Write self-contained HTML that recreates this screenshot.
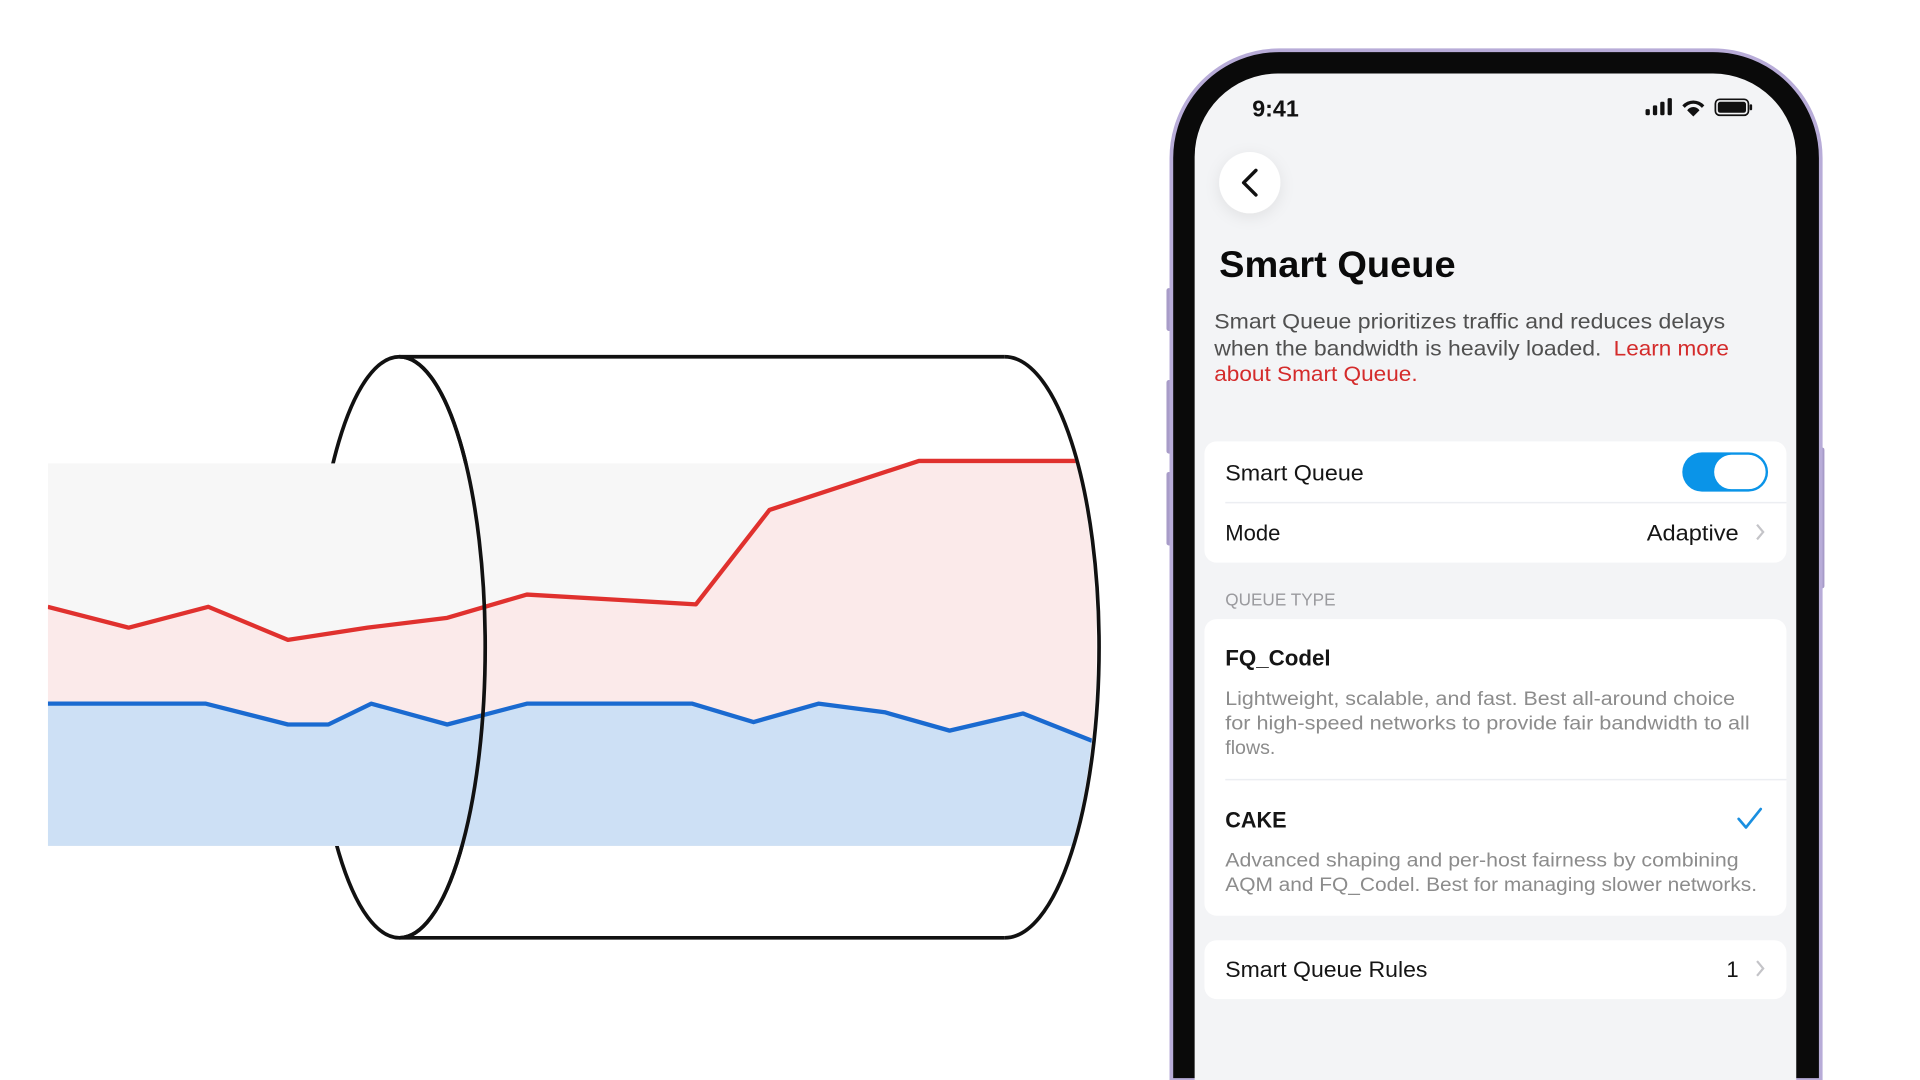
<!DOCTYPE html>
<html><head><meta charset="utf-8"><style>
html,body{margin:0;padding:0;background:#fff;width:1920px;height:1080px;overflow:hidden}
svg{display:block}
text{font-family:"Liberation Sans",sans-serif}
</style></head><body>
<svg width="1920" height="1080" viewBox="0 0 1567 881" preserveAspectRatio="none" xmlns="http://www.w3.org/2000/svg">
<defs>
<clipPath id="bandclip"><rect x="39" y="0" width="781" height="881"/><ellipse cx="820" cy="528" rx="75" ry="237"/></clipPath>
<filter id="sh" x="-50%" y="-50%" width="200%" height="200%"><feDropShadow dx="0" dy="3" stdDeviation="6" flood-color="#000" flood-opacity="0.08"/></filter>
</defs>
<ellipse cx="326" cy="528" rx="70" ry="237" fill="none" stroke="#111" stroke-width="3"/>
<g clip-path="url(#bandclip)">
<rect x="39" y="378" width="860" height="312" fill="#f7f7f7"/>
<polygon fill="#fbeaea" points="39,495 105,512 170,495 235,522 300,512 365,504 430,485 568,493 628,416 750,376 900,376 900,690 39,690"/>
<polygon fill="#cde0f5" points="39,574 168,574 235,591 268,591 303,574 365,591 430,574 565,574 615,589 668,574 722,581 775,596 835,582 893,605 900,605 900,690 39,690"/>
<polyline fill="none" stroke="#e0312e" stroke-width="3.5" stroke-linejoin="round" points="39,495 105,512 170,495 235,522 300,512 365,504 430,485 568,493 628,416 750,376 900,376"/>
<polyline fill="none" stroke="#1a6ad0" stroke-width="3.5" stroke-linejoin="round" points="39,574 168,574 235,591 268,591 303,574 365,591 430,574 565,574 615,589 668,574 722,581 775,596 835,582 893,605"/>
</g>
<path d="M326,291 A70,237 0 0 1 326,765" fill="none" stroke="#111" stroke-width="3"/>
<line x1="326" y1="291" x2="820" y2="291" stroke="#111" stroke-width="3"/>
<line x1="326" y1="765" x2="820" y2="765" stroke="#111" stroke-width="3"/>
<path d="M820,291 A77,237 0 0 1 820,765" fill="none" stroke="#111" stroke-width="3"/>

<rect x="952" y="235" width="5" height="35" rx="2" fill="#a89cc8"/>
<rect x="952" y="310" width="5" height="60" rx="2" fill="#a89cc8"/>
<rect x="952" y="385" width="5" height="60" rx="2" fill="#a89cc8"/>
<rect x="1484" y="365" width="5" height="115" rx="2" fill="#a89cc8"/>
<path d="M956,881 L956,129 A88,88 0 0 1 1044,41 L1398,41 A88,88 0 0 1 1486,129 L1486,881 Z" fill="#0a0a0a" stroke="#b8acd8" stroke-width="3"/>
<path d="M975,881 L975,128 A68,68 0 0 1 1043,60 L1398,60 A68,68 0 0 1 1466,128 L1466,881 Z" fill="#f3f4f6"/>
<text x="1022" y="95" font-size="19" font-weight="bold" fill="#111">9:41</text>
<g fill="#111">
<rect x="1343" y="89" width="3.5" height="5" rx="1"/><rect x="1349" y="86" width="3.5" height="8" rx="1"/><rect x="1355" y="83" width="3.5" height="11" rx="1"/><rect x="1361" y="80" width="3.5" height="14" rx="1"/>
<path d="M1373,86 a12,12 0 0 1 18,0 l-2,2 a9,9 0 0 0 -14,0z M1377,90 a6,6 0 0 1 10,0 l-5,5z"/>
<rect x="1400" y="81" width="27" height="13" rx="3.5" fill="none" stroke="#111" stroke-width="1.4"/>
<rect x="1402" y="83" width="23" height="9" rx="2"/><rect x="1428" y="85" width="2" height="5" rx="1"/>
</g>
<circle cx="1020" cy="149" r="25" fill="#fff" filter="url(#sh)"/>
<polyline points="1025,139 1015,149 1025,159" fill="none" stroke="#111" stroke-width="2.8" stroke-linecap="round" stroke-linejoin="round"/>
<text x="995" y="226" font-size="30" font-weight="bold" fill="#0a0a0a" textLength="193" lengthAdjust="spacingAndGlyphs">Smart Queue</text>
<g font-size="17" fill="#505050">
<text x="991" y="268" textLength="417" lengthAdjust="spacingAndGlyphs">Smart Queue prioritizes traffic and reduces delays</text>
<text x="991" y="290" textLength="316" lengthAdjust="spacingAndGlyphs">when the bandwidth is heavily loaded.</text>
<text x="1317" y="290" fill="#d42b2b" textLength="94" lengthAdjust="spacingAndGlyphs">Learn more</text>
<text x="991" y="311" fill="#d42b2b" textLength="166" lengthAdjust="spacingAndGlyphs">about Smart Queue.</text>
</g>
<rect x="983" y="360" width="475" height="99" rx="10" fill="#fff"/>
<line x1="1000" y1="410" x2="1458" y2="410" stroke="#eceef2" stroke-width="1.2"/>
<text x="1000" y="392" font-size="18" fill="#151515" textLength="113" lengthAdjust="spacingAndGlyphs">Smart Queue</text>
<rect x="1373" y="369" width="70" height="32" rx="16" fill="#0a94e8"/>
<rect x="1399" y="371" width="42" height="28" rx="14" fill="#fff"/>
<text x="1000" y="441" font-size="18" fill="#151515">Mode</text>
<text x="1419" y="441" font-size="18" fill="#151515" text-anchor="end" textLength="75" lengthAdjust="spacingAndGlyphs">Adaptive</text>
<polyline points="1434,428 1439,434 1434,440" fill="none" stroke="#c4c4c8" stroke-width="1.8"/>
<text x="1000" y="494" font-size="14" fill="#9a9a9e" textLength="90" lengthAdjust="spacingAndGlyphs">QUEUE TYPE</text>
<rect x="983" y="505" width="475" height="242" rx="10" fill="#fff"/>
<line x1="1000" y1="636" x2="1458" y2="636" stroke="#eceef2" stroke-width="1.2"/>
<text x="1000" y="543" font-size="18" font-weight="bold" fill="#151515" textLength="86" lengthAdjust="spacingAndGlyphs">FQ_Codel</text>
<g font-size="16" fill="#8c8c8c">
<text x="1000" y="575" textLength="416" lengthAdjust="spacingAndGlyphs">Lightweight, scalable, and fast. Best all-around choice</text>
<text x="1000" y="595" textLength="428" lengthAdjust="spacingAndGlyphs">for high-speed networks to provide fair bandwidth to all</text>
<text x="1000" y="615">flows.</text>
<text x="1000" y="707" textLength="419" lengthAdjust="spacingAndGlyphs">Advanced shaping and per-host fairness by combining</text>
<text x="1000" y="727" textLength="434" lengthAdjust="spacingAndGlyphs">AQM and FQ_Codel. Best for managing slower networks.</text>
</g>
<text x="1000" y="675" font-size="18" font-weight="bold" fill="#151515" textLength="50" lengthAdjust="spacingAndGlyphs">CAKE</text>
<polyline points="1419,668 1425,675 1437,660" fill="none" stroke="#1a8fe0" stroke-width="2.2" stroke-linecap="round" stroke-linejoin="round"/>
<rect x="983" y="767" width="475" height="48" rx="10" fill="#fff"/>
<text x="1000" y="797" font-size="18" fill="#151515" textLength="165" lengthAdjust="spacingAndGlyphs">Smart Queue Rules</text>
<text x="1419" y="797" font-size="18" fill="#151515" text-anchor="end">1</text>
<polyline points="1434,784 1439,790 1434,796" fill="none" stroke="#c4c4c8" stroke-width="1.8"/>
</svg>
</body></html>
